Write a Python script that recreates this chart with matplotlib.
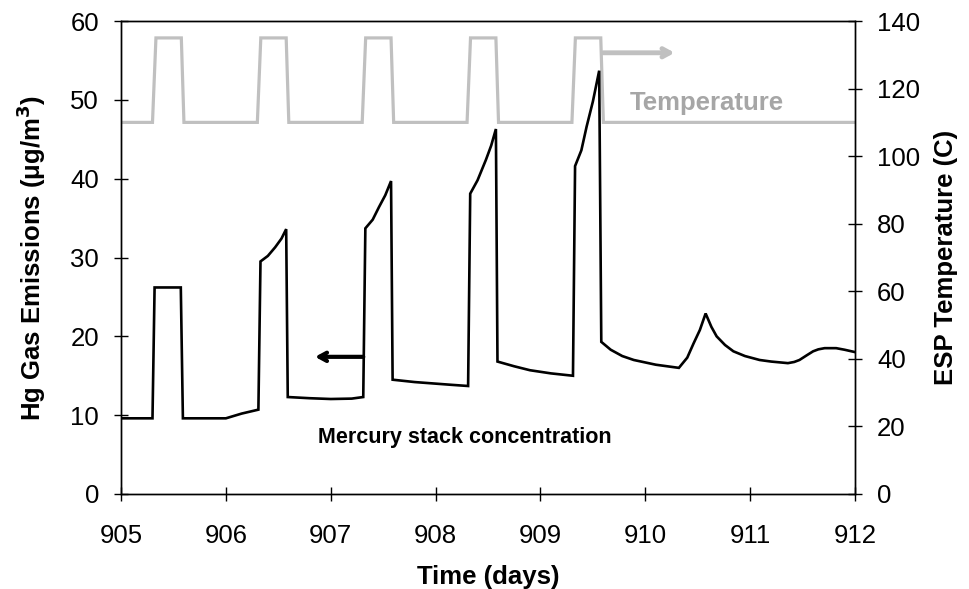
import matplotlib
matplotlib.use("Agg")
import matplotlib.pyplot as plt

plt.rcParams['font.family'] = ['Liberation Sans', 'DejaVu Sans']

# Mercury stack concentration (ug/m3) vs time (days)
hg_time = [905.0, 905.30, 905.32, 905.57, 905.59, 906.0, 906.15, 906.31,
           906.33, 906.40, 906.47, 906.53, 906.575, 906.59, 906.8, 907.0,
           907.2, 907.31, 907.33, 907.40, 907.46, 907.52, 907.575, 907.59,
           907.8, 907.95, 908.15, 908.31, 908.33, 908.40, 908.48, 908.53,
           908.575, 908.59, 908.75, 908.9, 909.1, 909.31, 909.33, 909.39,
           909.44, 909.50, 909.56, 909.58, 909.67, 909.78, 909.89, 910.1,
           910.32, 910.40, 910.46, 910.52, 910.575, 910.63, 910.68, 910.76,
           910.84, 910.95, 911.09, 911.2, 911.36, 911.42, 911.47, 911.54,
           911.6, 911.65, 911.71, 911.82, 911.9, 912.0]
hg_conc = [9.6, 9.6, 26.2, 26.2, 9.6, 9.6, 10.2, 10.7,
           29.5, 30.2, 31.3, 32.4, 33.6, 12.3, 12.15, 12.05,
           12.1, 12.3, 33.7, 34.8, 36.4, 37.9, 39.7, 14.5,
           14.2, 14.05, 13.85, 13.7, 38.1, 39.8, 42.4, 44.2,
           46.3, 16.8, 16.2, 15.7, 15.3, 15.0, 41.6, 43.6,
           46.6, 49.8, 53.7, 19.3, 18.3, 17.5, 17.0, 16.4,
           16.0, 17.3, 19.1, 20.8, 22.9, 21.2, 20.0, 18.9,
           18.1, 17.5, 17.0, 16.8, 16.6, 16.75, 17.0, 17.6,
           18.1, 18.35, 18.5, 18.5, 18.3, 18.0]

# ESP temperature (C) vs time (days)
temp_time = [905.0, 905.30, 905.333, 905.575, 905.60,
             906.30, 906.333, 906.575, 906.60,
             907.30, 907.333, 907.575, 907.60,
             908.30, 908.333, 908.575, 908.60,
             909.30, 909.333, 909.575, 909.60, 912.0]
temp_val = [110, 110, 135, 135, 110,
            110, 135, 135, 110,
            110, 135, 135, 110,
            110, 135, 135, 110,
            110, 135, 135, 110, 110]

x_ticks = [905, 906, 907, 908, 909, 910, 911, 912]
left_ticks = [0, 10, 20, 30, 40, 50, 60]
right_ticks = [0, 20, 40, 60, 80, 100, 120, 140]

GRAY_LINE = '#c0c0c0'
GRAY_TEXT = '#a6a6a6'
FS = 18.5

fig = plt.figure(figsize=(9.69, 5.89), dpi=100)
ax = fig.add_axes([0.1249, 0.1613, 0.8824 - 0.1249, 0.9643 - 0.1613])
ax2 = ax.twinx()

ax2.plot(temp_time, temp_val, color=GRAY_LINE, lw=2.3, solid_joinstyle='miter')
ax.plot(hg_time, hg_conc, color='black', lw=1.9, solid_joinstyle='miter')

ax.set_zorder(ax2.get_zorder() + 1)
ax.patch.set_visible(False)

ax.set_xlim(905, 912)
ax.set_ylim(0, 60)
ax2.set_ylim(0, 140)
ax.set_xticks(x_ticks)
ax.set_yticks(left_ticks)
ax2.set_yticks(right_ticks)

for a in (ax, ax2):
    a.tick_params(direction='inout', length=10.5, width=1.0, labelsize=FS,
                  color='black')
    for s in a.spines.values():
        s.set_linewidth(1.0)
ax.tick_params(axis='x', pad=16.5)
ax.tick_params(axis='y', pad=10.5)
ax2.tick_params(axis='y', pad=10.5)

ax.set_xlabel('Time (days)', fontsize=FS, fontweight='bold', labelpad=12)
ax.set_ylabel('Hg Gas Emissions (\u03bcg/m$^\\mathbf{3}$)', fontsize=FS,
              fontweight='bold', labelpad=16)
ax2.set_ylabel('ESP Temperature (C)', fontsize=FS, fontweight='bold',
               labelpad=10)

# Series labels and pointer arrows
ax2.text(910.585, 115.6, 'Temperature', color=GRAY_TEXT, fontsize=FS,
         fontweight='bold', ha='center', va='center')
ax2.annotate('', xy=(910.28, 130.6), xytext=(909.6, 130.6),
             arrowprops=dict(arrowstyle='->,head_length=0.55,head_width=0.3',
                             color=GRAY_LINE, lw=3.5, shrinkA=0, shrinkB=0))

ax.text(908.28, 7.2, 'Mercury stack concentration', color='black',
        fontsize=15.5, fontweight='bold', ha='center', va='center')
ax.annotate('', xy=(906.85, 17.4), xytext=(907.31, 17.4),
            arrowprops=dict(arrowstyle='->,head_length=0.55,head_width=0.3',
                            color='black', lw=3.0, shrinkA=0, shrinkB=0))

fig.savefig('out.png', dpi=100)
